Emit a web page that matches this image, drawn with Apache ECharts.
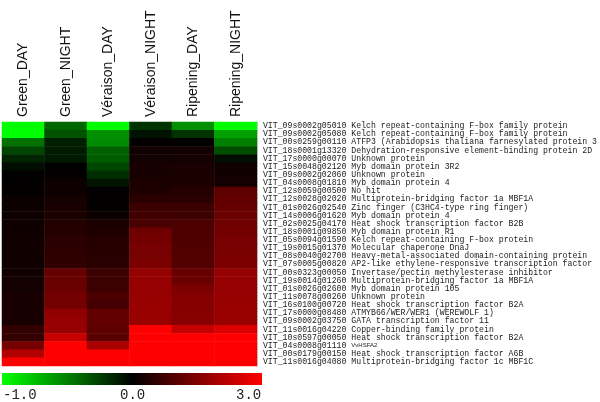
<!DOCTYPE html>
<html>
<head>
<meta charset="utf-8">
<script src="https://cdn.jsdelivr.net/npm/echarts@6/dist/echarts.min.js"></script>
<style>
html,body{margin:0;padding:0;background:#fff;}
#chart{width:600px;height:402px;}
</style>
</head>
<body>
<div id="chart"></div>
<script>
// ---- data ----
const conditions = ['Green_DAY', 'Green_NIGHT', 'Véraison_DAY', 'Véraison_NIGHT', 'Ripening_DAY', 'Ripening_NIGHT'];

const geneIds = [
  'VIT_09s0002g05010', 'VIT_09s0002g05080', 'VIT_00s0259g00110', 'VIT_18s0001g13320',
  'VIT_17s0000g00070', 'VIT_15s0048g02120', 'VIT_09s0002g02060', 'VIT_04s0008g01810',
  'VIT_12s0059g00500', 'VIT_12s0028g02020', 'VIT_01s0026g02540', 'VIT_14s0006g01620',
  'VIT_02s0025g04170', 'VIT_18s0001g09850', 'VIT_05s0094g01590', 'VIT_19s0015g01370',
  'VIT_08s0040g02700', 'VIT_07s0005g00820', 'VIT_00s0323g00050', 'VIT_19s0014g01260',
  'VIT_01s0026g02600', 'VIT_11s0078g00260', 'VIT_16s0100g00720', 'VIT_17s0000g08480',
  'VIT_09s0002g03750', 'VIT_11s0016g04220', 'VIT_10s0597g00050', 'VIT_04s0008g01110',
  'VIT_00s0179g00150', 'VIT_11s0016g04080'
];

const geneDescriptions = [
  'Kelch repeat-containing F-box family protein',
  'Kelch repeat-containing F-box family protein',
  'ATFP3 (Arabidopsis thaliana farnesylated protein 3',
  'Dehydration-responsive element-binding protein 2D',
  'Unknown protein',
  'Myb domain protein 3R2',
  'Unknown protein',
  'Myb domain protein 4',
  'No hit',
  'Multiprotein-bridging factor 1a MBF1A',
  'Zinc finger (C3HC4-type ring finger)',
  'Myb domain protein 4',
  'Heat shock transcription factor B2B',
  'Myb domain protein R1',
  'Kelch repeat-containing F-box protein',
  'Molecular chaperone DnaJ',
  'Heavy-metal-associated domain-containing protein',
  'AP2-like ethylene-responsive transcription factor',
  'Invertase/pectin methylesterase inhibitor',
  'Multiprotein-bridging factor 1a MBF1A',
  'Myb domain protein 105',
  'Unknown protein',
  'Heat shock transcription factor B2A',
  'ATMYB66/WER/WER1 (WEREWOLF 1)',
  'GATA transcription factor 11',
  'Copper-binding family protein',
  'Heat shock transcription factor B2A',
  'VvHSFA2',
  'Heat shock transcription factor A6B',
  'Multiprotein-bridging factor 1c MBF1C'
];

const greenDay      = [-1, -1, -0.44, -0.27, -0.14, -0.05, 0.02, 0.04, 0.06, 0.12, 0.14, 0.15, 0.17, 0.18, 0.2, 0.2, 0.2, 0.2, 0.2, 0.22, 0.22, 0.28, 0.28, 0.28, 0.28, 0.6, 0.62, 1.4, 2.1, 3];
const greenNight    = [-0.4, -0.32, -0.12, -0.11, -0.1, 0.01, 0.05, 0.14, 0.15, 0.25, 0.28, 0.32, 0.4, 0.42, 0.5, 0.52, 0.55, 0.58, 1.2, 1.22, 1.25, 1.35, 1.38, 1.7, 1.75, 1.78, 2.35, 3, 3, 3];
const veraisonDay   = [-1, -0.56, -0.55, -0.38, -0.36, -0.27, -0.18, -0.08, 0.02, 0.04, 0.06, 0.12, 0.3, 0.35, 0.45, 0.45, 0.47, 0.48, 0.7, 0.72, 0.72, 0.9, 0.8, 1.15, 1.15, 1.1, 1.05, 2.0, 3, 3];
const veraisonNight = [-0.2, -0.07, 0.05, 0.2, 0.22, 0.27, 0.28, 0.33, 0.35, 0.5, 0.7, 0.75, 0.85, 1.3, 1.35, 1.4, 1.4, 1.45, 1.75, 1.75, 1.78, 1.78, 1.8, 1.8, 1.8, 3, 3, 3, 3, 3];
const ripeningDay   = [-0.56, -0.2, 0.03, 0.22, 0.24, 0.3, 0.32, 0.33, 0.45, 0.5, 0.7, 0.72, 0.9, 0.92, 0.92, 0.95, 0.95, 0.98, 1.2, 1.25, 1.45, 1.55, 1.55, 1.58, 1.6, 2.3, 3, 3, 3, 3];
const ripeningNight = [-1, -0.63, -0.5, -0.3, -0.05, 0.2, 0.22, 0.22, 1.1, 1.15, 1.2, 1.25, 1.3, 1.35, 1.4, 1.42, 1.45, 1.45, 1.75, 1.75, 1.78, 1.78, 1.8, 1.8, 1.8, 2.6, 3, 3, 3, 3];

const colorbarLabels = ['-1.0', '0.0', '3.0'];
const scaleMin = -1, scaleMax = 3;

// ---- build ----
const columns = [greenDay, greenNight, veraisonDay, veraisonNight, ripeningDay, ripeningNight];
const cells = [];
columns.forEach((col, ci) => col.forEach((v, ri) => cells.push([ci, ri, v])));

const chart = echarts.init(document.getElementById('chart'), null, {renderer: 'canvas'});

const gridLeft = 2, gridTop = 122, gridW = 259, gridH = 244;
const barTop = 373, barH = 12;

chart.setOption({
  backgroundColor: '#ffffff',
  animation: false,
  grid: {left: gridLeft, top: gridTop, width: gridW, height: gridH},
  xAxis: {
    type: 'category',
    position: 'top',
    data: conditions,
    axisLine: {show: false},
    axisTick: {show: false},
    splitLine: {show: false},
    axisLabel: {
      rotate: -90,
      margin: 5,
      fontSize: 14,
      fontFamily: 'Liberation Sans',
      color: '#111',
      interval: 0
    }
  },
  yAxis: {
    type: 'category',
    position: 'right',
    inverse: true,
    data: geneIds,
    axisLine: {show: true, lineStyle: {color: '#cfcfcf', width: 1}},
    axisTick: {show: false},
    splitLine: {show: false},
    axisLabel: {
      interval: 0,
      margin: 6,
      fontSize: 8.2,
      fontFamily: 'Liberation Mono',
      color: '#222',
      formatter: function (v, i) {
        const d = geneDescriptions[i];
        if (d === 'VvHSFA2') return '{id|' + v + '} {small|' + d + '}';
        return '{id|' + v + '} {d|' + d + '}';
      },
      rich: {
        id: {fontSize: 8.2, fontFamily: 'Liberation Mono', color: '#222'},
        d: {fontSize: 8.2, fontFamily: 'Liberation Mono', color: '#222'},
        small: {fontSize: 6, fontFamily: 'Liberation Sans', color: '#222'}
      }
    }
  },
  visualMap: {
    show: false,
    type: 'continuous',
    min: scaleMin,
    max: scaleMax,
    dimension: 2,
    inRange: {color: ['#00ff00', '#000000', '#550000', '#aa0000', '#ff0000']}
  },
  series: [{
    type: 'heatmap',
    data: cells,
    itemStyle: {borderWidth: 0},
    emphasis: {disabled: true}
  }],
  graphic: [
    {
      type: 'rect',
      shape: {x: gridLeft, y: barTop, width: gridW + 1, height: barH},
      style: {
        fill: new echarts.graphic.LinearGradient(0, 0, 1, 0, [
          {offset: 0, color: '#00ff00'},
          {offset: 0.5, color: '#000000'},
          {offset: 1, color: '#ff0000'}
        ])
      }
    },
    {
      type: 'text', left: 3, top: 388,
      style: {text: colorbarLabels[0], font: '14px "Liberation Mono"', fill: '#222'}
    },
    {
      type: 'text', left: 120, top: 388,
      style: {text: colorbarLabels[1], font: '14px "Liberation Mono"', fill: '#222'}
    },
    {
      type: 'text', left: 236, top: 388,
      style: {text: colorbarLabels[2], font: '14px "Liberation Mono"', fill: '#222'}
    }
  ]
});
</script>
</body>
</html>
